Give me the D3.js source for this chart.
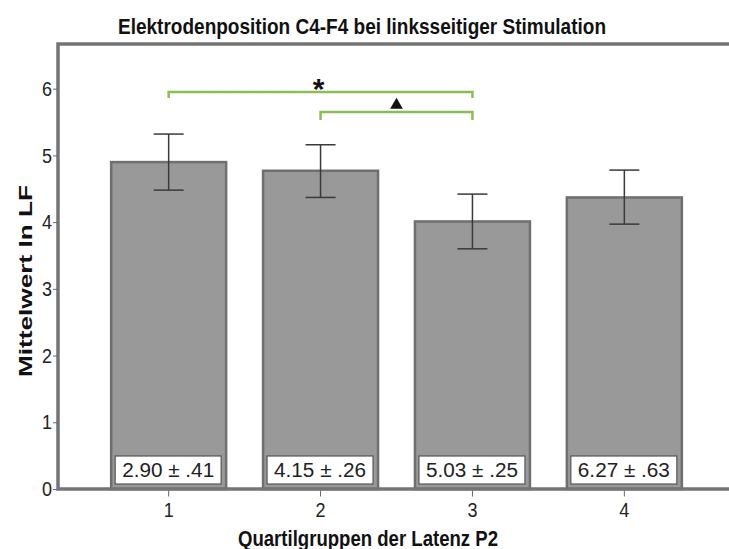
<!DOCTYPE html>
<html>
<head>
<meta charset="utf-8">
<script src="https://cdn.jsdelivr.net/npm/d3@7"></script>
<style>
  html, body { margin: 0; padding: 0; background: #fff; }
  svg { display: block; font-family: "Liberation Sans", Arial, sans-serif; }
</style>
</head>
<body>
<svg id="chart" width="729" height="549"></svg>
<script>
// Quartile groups of P2 latency
const categories = ["1", "2", "3", "4"];
// Mean ln LF per group, with confidence interval bounds
const means  = [4.90, 4.77, 4.01, 4.37];
const ciLow  = [4.48, 4.37, 3.60, 3.97];
const ciHigh = [5.32, 5.16, 4.42, 4.78];
// Latency (mean ± SD) printed inside each bar
const boxLabels = ["2.90 ± .41", "4.15 ± .26", "5.03 ± .25", "6.27 ± .63"];
const yTicks = [0, 1, 2, 3, 4, 5, 6];
// Significance brackets between groups
const bracketStart  = ["1", "2"];
const bracketTo     = ["3", "3"];
const bracketLevel  = [5.95, 5.65];
const bracketDrop   = [5.86, 5.53];
const bracketSymbol = ["star", "triangle"];

(function draw() {
  const svg = d3.select("#chart");
  const mLeft = 58, mRight = 735, mTop = 44, mBottom = 489;
  const stretch = 1.15; // glyphs are drawn a little taller than wide

  const x = d3.scaleBand().domain(categories).range([mLeft, mRight])
    .paddingInner(0.243).paddingOuter(0.35);
  const y = d3.scaleLinear().domain([0, 6.67]).range([mBottom, mTop]);

  // horizontal text anchored at (tx, ty), stretched vertically
  function hText(g, tx, ty, str, size, bold, len) {
    const t = g.append("text")
      .attr("transform", `translate(${tx},${ty}) scale(1,${stretch})`)
      .attr("text-anchor", "middle")
      .attr("font-size", size).attr("fill", "#111")
      .attr("font-weight", bold ? "bold" : "normal")
      .text(str);
    if (len) t.attr("textLength", len).attr("lengthAdjust", "spacingAndGlyphs");
    return t;
  }

  // Title
  hText(svg, 362, 34, "Elektrodenposition C4-F4 bei linksseitiger Stimulation", 19, true, 488);

  const data = categories.map((c, i) => ({c, m: means[i], lo: ciLow[i], hi: ciHigh[i], lab: boxLabels[i]}));

  // Bars
  svg.append("g").selectAll("rect").data(data).join("rect")
    .attr("x", d => x(d.c))
    .attr("y", d => y(d.m))
    .attr("width", x.bandwidth())
    .attr("height", d => y(0) - y(d.m))
    .attr("fill", "#999999")
    .attr("stroke", "#6f6f6f")
    .attr("stroke-width", 2.5);

  // Error bars
  const eb = svg.append("g").attr("stroke", "#3a3a3a").attr("stroke-width", 1.5).attr("fill", "none");
  data.forEach(d => {
    const cx = x(d.c) + x.bandwidth() / 2;
    eb.append("line").attr("x1", cx).attr("x2", cx).attr("y1", y(d.hi)).attr("y2", y(d.lo));
    eb.append("line").attr("x1", cx - 15).attr("x2", cx + 15).attr("y1", y(d.hi)).attr("y2", y(d.hi));
    eb.append("line").attr("x1", cx - 15).attr("x2", cx + 15).attr("y1", y(d.lo)).attr("y2", y(d.lo));
  });

  // Value boxes at the foot of each bar
  const lb = svg.append("g");
  data.forEach(d => {
    const bx = x(d.c) + 4, bw = x.bandwidth() - 9;
    lb.append("rect").attr("x", bx).attr("y", 456).attr("width", bw).attr("height", 28)
      .attr("fill", "#fff").attr("stroke", "#555").attr("stroke-width", 1.2);
    hText(lb, bx + bw / 2, 477, d.lab, 18, false, 92).attr("fill", "#222");
  });

  // Frame (left, top, bottom)
  svg.append("path").attr("d", `M${mRight},${mTop}H${mLeft}V${mBottom}H${mRight}`)
    .attr("stroke", "#747474").attr("stroke-width", 3.5).attr("fill", "none");

  // Y axis ticks and labels
  const yAxis = d3.axisLeft(y).tickValues(yTicks).tickSize(4).tickPadding(1).tickFormat(d3.format("d"));
  const gy = svg.append("g").attr("transform", `translate(${mLeft - 1},0)`).call(yAxis);
  gy.select(".domain").remove();
  gy.selectAll(".tick line").attr("stroke", "#666");
  gy.selectAll(".tick text").attr("font-size", 18).attr("fill", "#222")
    .attr("font-family", "Liberation Sans, Arial, sans-serif")
    .attr("transform", `scale(1,${stretch})`);

  // X axis ticks and labels
  const xAxis = d3.axisBottom(x).tickSize(6).tickPadding(4);
  const gx = svg.append("g").attr("transform", `translate(0,${mBottom + 1.5})`).call(xAxis);
  gx.select(".domain").remove();
  gx.selectAll(".tick line").attr("stroke", "#666");
  gx.selectAll(".tick text").attr("font-size", 18).attr("fill", "#222")
    .attr("font-family", "Liberation Sans, Arial, sans-serif")
    .attr("transform", `scale(1,${stretch})`);

  // Axis titles
  hText(svg, 368, 546, "Quartilgruppen der Latenz P2", 19, true, 260);

  svg.append("text")
    .attr("transform", `translate(32,281) rotate(-90)`)
    .attr("text-anchor", "middle").attr("font-weight", "bold").attr("font-size", 19).attr("fill", "#111")
    .attr("textLength", 192).attr("lengthAdjust", "spacingAndGlyphs")
    .text("Mittelwert ln LF");

  // Significance brackets
  const br = svg.append("g");
  bracketStart.forEach((s, i) => {
    const x1 = x(s) + x.bandwidth() / 2;
    const x2 = x(bracketTo[i]) + x.bandwidth() / 2;
    const yl = y(bracketLevel[i]), yd = y(bracketDrop[i]);
    br.append("path").attr("d", `M${x1},${yd}V${yl}H${x2}V${yd}`)
      .attr("fill", "none").attr("stroke", "#8cbc55").attr("stroke-width", 2.5);
    const mx = (x1 + x2) / 2;
    if (bracketSymbol[i] === "star") {
      br.append("text").attr("x", mx - 2).attr("y", yl + 7)
        .attr("text-anchor", "middle").attr("font-size", 30).attr("font-weight", "bold").attr("fill", "#111")
        .text("*");
    } else {
      br.append("path").attr("d", d3.symbol(d3.symbolTriangle, 70)())
        .attr("transform", `translate(${mx},${yl - 7})`).attr("fill", "#111");
    }
  });
})();
</script>
</body>
</html>
